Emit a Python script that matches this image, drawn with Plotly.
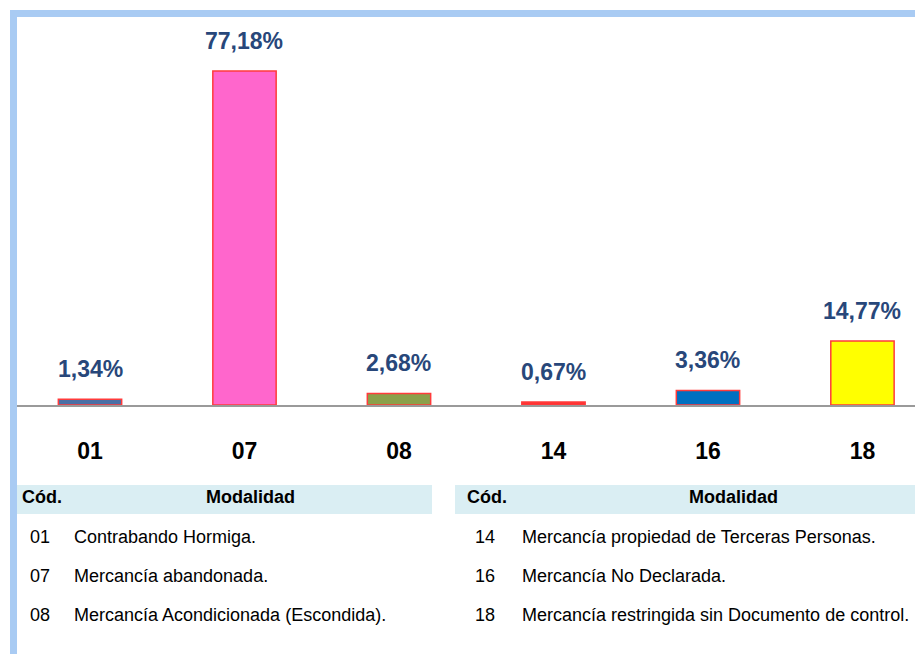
import plotly.graph_objects as go

# ---- data ----
codes = ["01", "07", "08", "14", "16", "18"]
values = [1.34, 77.18, 2.68, 0.67, 3.36, 14.77]
labels = ["1,34%", "77,18%", "2,68%", "0,67%", "3,36%", "14,77%"]
bar_colors = ["#4a6fa5", "#ff66cc", "#8aa04a", "#ff3333", "#0070c0", "#ffff00"]

left_codes = ["01", "07", "08"]
left_desc = ["Contrabando Hormiga.", "Mercancía abandonada.", "Mercancía Acondicionada (Escondida)."]
right_codes = ["14", "16", "18"]
right_desc = ["Mercancía propiedad de Terceras Personas.", "Mercancía No Declarada.",
              "Mercancía restringida sin Documento de control."]
header_code = "Cód."
header_mod = "Modalidad"

W, H = 915, 654
FONT = "Liberation Sans Narrow, Arial Narrow, Liberation Sans, Arial, sans-serif"


def px(x):
    return x / W


def py(y):
    return 1 - y / H


fig = go.Figure()
fig.add_trace(go.Bar(
    x=codes, y=values,
    marker=dict(color=bar_colors, line=dict(color="#ff3b3b", width=1.5)),
    width=0.41, hoverinfo="x+y",
))

shapes = []
annotations = []

# value labels above bars (category index positions)
for i, (v, t) in enumerate(zip(values, labels)):
    annotations.append(dict(x=i, y=v, xref="x", yref="y", text=t, showarrow=False,
                            xanchor="center", yanchor="middle", yshift=30,
                            font=dict(family=FONT, size=23, color="#28477a", weight="bold")))

# frame borders (light blue)
shapes.append(dict(type="rect", xref="paper", yref="paper", x0=px(10), x1=1, y0=py(17), y1=py(10),
                   fillcolor="#a9cbf3", line=dict(width=0), layer="above"))
shapes.append(dict(type="rect", xref="paper", yref="paper", x0=px(10), x1=px(17), y0=0, y1=py(10),
                   fillcolor="#a9cbf3", line=dict(width=0), layer="above"))

# table header bands
for x0, x1 in [(17, 432), (455, 915)]:
    shapes.append(dict(type="rect", xref="paper", yref="paper", x0=px(x0), x1=px(x1),
                       y0=py(514), y1=py(485), fillcolor="#daeef3", line=dict(width=0)))

hdr_font = dict(family=FONT, size=18, color="#000000", weight="bold")
row_font = dict(family=FONT, size=18, color="#000000")

for cx, mx in [(20, 250), (465, 733)]:
    annotations.append(dict(x=px(cx), y=py(497), xref="paper", yref="paper", text=header_code,
                            showarrow=False, xanchor="left", yanchor="middle", font=hdr_font))
    annotations.append(dict(x=px(mx), y=py(497), xref="paper", yref="paper", text=header_mod,
                            showarrow=False, xanchor="center", yanchor="middle", font=hdr_font))

row_y = [537, 576, 615]
for cx, dx, cl, dl in [(40, 72, left_codes, left_desc), (485, 520, right_codes, right_desc)]:
    for i, (c, d) in enumerate(zip(cl, dl)):
        annotations.append(dict(x=px(cx), y=py(row_y[i]), xref="paper", yref="paper", text=c,
                                showarrow=False, xanchor="center", yanchor="middle", font=row_font))
        annotations.append(dict(x=px(dx), y=py(row_y[i]), xref="paper", yref="paper", text=d,
                                showarrow=False, xanchor="left", yanchor="middle", font=row_font))

scale = 334 / 77.18  # px per percent
top_val = (405 - 17) / scale

fig.update_layout(
    width=W, height=H,
    margin=dict(l=0, r=0, t=0, b=0),
    paper_bgcolor="white", plot_bgcolor="white",
    showlegend=False,
    xaxis=dict(domain=[px(17), 1], range=[-0.4725, 5.34], type="category",
               showline=True, linecolor="#9a9a9a", linewidth=2, showgrid=False, zeroline=False,
               ticks="", ticklabelstandoff=24,
               tickfont=dict(family=FONT, size=23, color="#000000", weight="bold"),
               automargin=False),
    yaxis=dict(domain=[py(405), py(17)], range=[0, top_val], visible=False, automargin=False),
    shapes=shapes,
    annotations=annotations,
)

fig.write_html("out.html", config={"displayModeBar": False},
               post_script="document.body.style.margin='0';")
